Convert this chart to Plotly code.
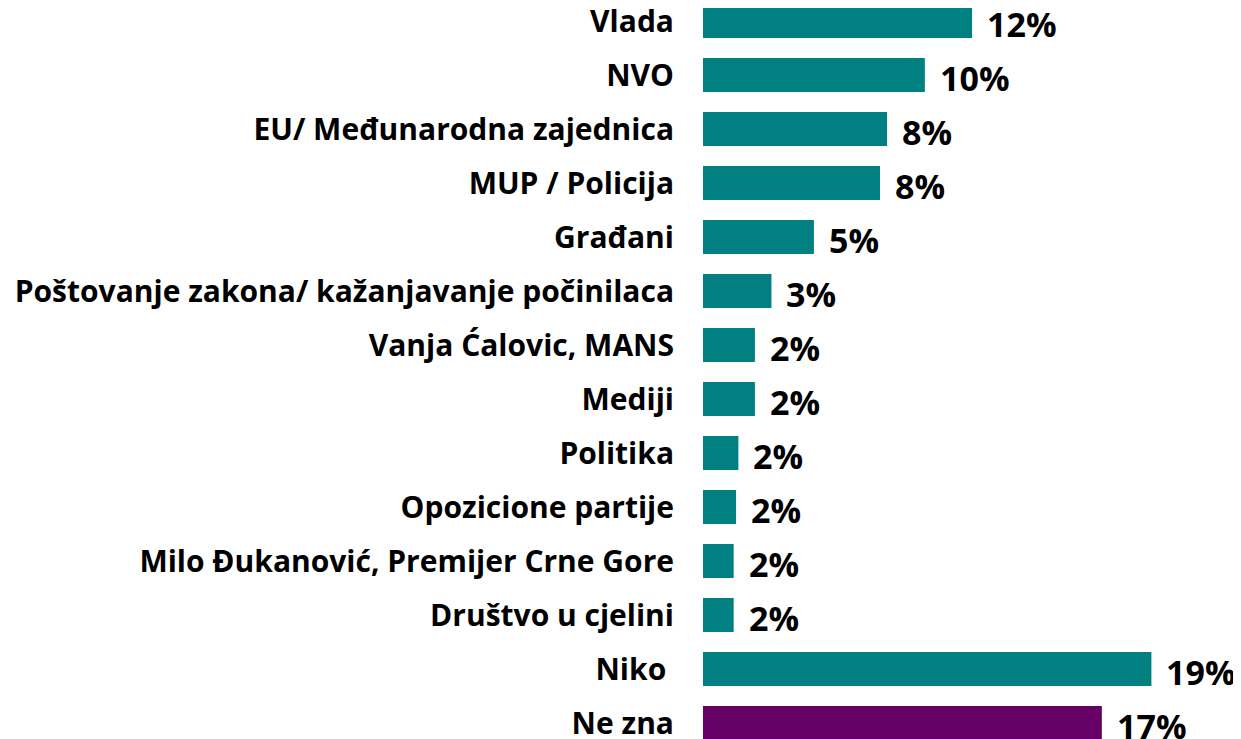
import plotly.graph_objects as go

categories = [
    "Vlada",
    "NVO",
    "EU/ Međunarodna zajednica",
    "MUP / Policija",
    "Građani",
    "Poštovanje zakona/ kažanjavanje počinilaca",
    "Vanja Ćalovic, MANS",
    "Mediji",
    "Politika",
    "Opozicione partije",
    "Milo Đukanović, Premijer Crne Gore",
    "Društvo u cjelini",
    "Niko\u00a0",
    "Ne zna",
]
values = [11.4, 9.4, 7.8, 7.5, 4.7, 2.9, 2.2, 2.2, 1.5, 1.4, 1.3, 1.3, 19.0, 16.9]
value_labels = ["12%", "10%", "8%", "8%", "5%", "3%", "2%", "2%", "2%", "2%", "2%", "2%", "19%", "17%"]
colors = ["#008080"] * 13 + ["#660066"]

FONT = "Open Sans"

fig = go.Figure()
fig.add_trace(go.Bar(
    y=categories,
    x=values,
    orientation="h",
    marker=dict(color=colors, line=dict(width=0)),
    width=0.63,
    hoverinfo="skip",
))

for cat, v, lab in zip(categories, values, value_labels):
    fig.add_annotation(
        x=v, y=cat, text=lab, showarrow=False,
        xanchor="left", yanchor="middle", xshift=13, yshift=-3,
        font=dict(family=FONT, size=34, color="#000000", weight="bold"),
    )

fig.update_layout(
    width=1233, height=731,
    margin=dict(l=695, r=0, t=0, b=0, autoexpand=False),
    paper_bgcolor="white", plot_bgcolor="white",
    showlegend=False,
    xaxis=dict(range=[0, 538 / 23.6], visible=False, showgrid=False,
               zeroline=False, automargin=False),
    yaxis=dict(
        type="category",
        categoryorder="array", categoryarray=categories,
        range=[13.296, -0.241],
        showgrid=False, zeroline=False, showline=False, automargin=False,
        ticks="", ticklabelstandoff=28,
        tickfont=dict(family=FONT, size=30, color="#000000", weight="bold"),
    ),
)

fig.write_html("out.html")
